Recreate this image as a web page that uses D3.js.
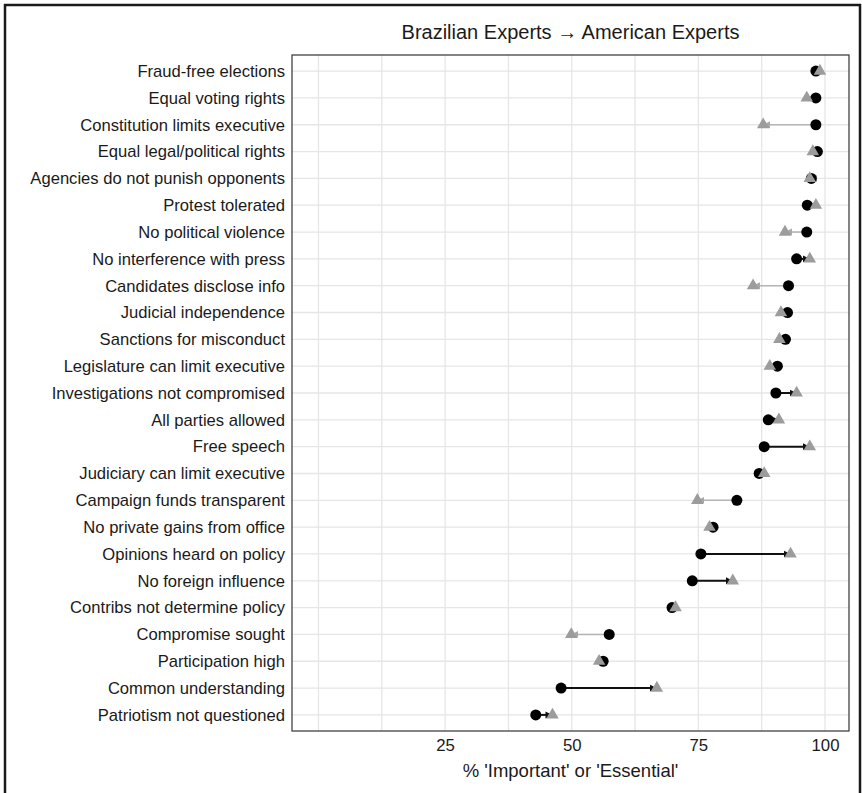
<!DOCTYPE html>
<html>
<head>
<meta charset="utf-8">
<script src="https://cdn.jsdelivr.net/npm/d3@7"></script>
<style>
  html, body { margin: 0; padding: 0; background: #fff; }
  svg { display: block; font-family: "Liberation Sans", Arial, sans-serif; }
</style>
</head>
<body>
<svg id="chart" width="862" height="793"></svg>
<script>
// Items, top to bottom
const categories = [
  "Fraud-free elections", "Equal voting rights", "Constitution limits executive",
  "Equal legal/political rights", "Agencies do not punish opponents", "Protest tolerated",
  "No political violence", "No interference with press", "Candidates disclose info",
  "Judicial independence", "Sanctions for misconduct", "Legislature can limit executive",
  "Investigations not compromised", "All parties allowed", "Free speech",
  "Judiciary can limit executive", "Campaign funds transparent", "No private gains from office",
  "Opinions heard on policy", "No foreign influence", "Contribs not determine policy",
  "Compromise sought", "Participation high", "Common understanding", "Patriotism not questioned"
];

// % rating the item 'Important' or 'Essential'
const brazilian = [98.2, 98.2, 98.2, 98.5, 97.3, 96.5, 96.4, 94.4, 92.8, 92.6, 92.2, 90.6, 90.3,
                   88.8, 88.0, 87.0, 82.6, 77.9, 75.5, 73.8, 69.8, 57.4, 56.2, 47.9, 42.9];
const american  = [99.0, 96.4, 87.8, 97.6, 97.0, 98.2, 92.1, 97.0, 85.8, 91.3, 91.0, 89.1, 94.4,
                   90.9, 97.0, 88.0, 74.8, 77.2, 93.2, 81.8, 70.5, 49.9, 55.4, 66.8, 46.2];

const tickValues = [25, 50, 75, 100];
const gridValues = [0, 12.5, 25, 37.5, 50, 62.5, 75, 87.5, 100];

const titleText = "Brazilian Experts \u2192 American Experts";
const xTitle = "% 'Important' or 'Essential'";

const rows = categories.map((c, i) => ({ cat: c, from: brazilian[i], to: american[i] }));

const svg = d3.select("#chart");
const panel = { left: 292, right: 849, top: 55, bottom: 731 };

const x = d3.scaleLinear().domain([-5.23, 104.74]).range([panel.left, panel.right]);
const y = d3.scalePoint().domain(categories).range([panel.top, panel.bottom]).padding(0.6);

// outer frame
svg.append("line").attr("x1", 5).attr("x2", 5).attr("y1", 4).attr("y2", 793)
  .attr("stroke", "#1a1a1a").attr("stroke-width", 2.5);
svg.append("line").attr("x1", 4).attr("x2", 861).attr("y1", 5).attr("y2", 5)
  .attr("stroke", "#1a1a1a").attr("stroke-width", 2.5);
svg.append("line").attr("x1", 860).attr("x2", 860).attr("y1", 4).attr("y2", 793)
  .attr("stroke", "#1a1a1a").attr("stroke-width", 2.5);

// arrowheads
const defs = svg.append("defs");
[["arrBlack", "#111"], ["arrGray", "#a8a8a8"]].forEach(([id, col]) => {
  defs.append("marker").attr("id", id)
    .attr("viewBox", "0 0 10 10").attr("refX", 10).attr("refY", 5)
    .attr("markerWidth", 7).attr("markerHeight", 8).attr("markerUnits", "userSpaceOnUse")
    .attr("orient", "auto")
    .append("path").attr("d", "M0,0 L10,5 L0,10 Z").attr("fill", col);
});

// grid
const g = svg.append("g");
g.selectAll(".vgrid").data(gridValues).join("line")
  .attr("x1", d => x(d)).attr("x2", d => x(d))
  .attr("y1", panel.top).attr("y2", panel.bottom)
  .attr("stroke", "#e6e6e6").attr("stroke-width", 1.3);
g.selectAll(".hgrid").data(categories).join("line")
  .attr("x1", panel.left).attr("x2", panel.right)
  .attr("y1", d => y(d)).attr("y2", d => y(d))
  .attr("stroke", "#e6e6e6").attr("stroke-width", 1.3);

// segments with arrows
svg.append("g").selectAll("line").data(rows).join("line")
  .attr("x1", d => x(d.from)).attr("x2", d => x(d.to))
  .attr("y1", d => y(d.cat)).attr("y2", d => y(d.cat))
  .attr("stroke", d => d.to >= d.from ? "#111" : "#b5b5b5")
  .attr("stroke-width", d => d.to >= d.from ? 2 : 1.6)
  .attr("marker-end", d => d.to >= d.from ? "url(#arrBlack)" : "url(#arrGray)");

// Brazilian experts
svg.append("g").selectAll("circle").data(rows).join("circle")
  .attr("cx", d => x(d.from)).attr("cy", d => y(d.cat)).attr("r", 5.5)
  .attr("fill", "#000");

// American experts
const tri = d3.symbol().type(d3.symbolTriangle).size(68);
svg.append("g").selectAll("path").data(rows).join("path")
  .attr("d", tri)
  .attr("transform", d => `translate(${x(d.to)},${y(d.cat)})`)
  .attr("fill", "#9c9c9c");

// panel border
svg.append("rect")
  .attr("x", panel.left).attr("y", panel.top)
  .attr("width", panel.right - panel.left).attr("height", panel.bottom - panel.top)
  .attr("fill", "none").attr("stroke", "#333").attr("stroke-width", 1.2);

// y axis labels
const yAxis = d3.axisLeft(y).tickSize(0).tickPadding(7);
svg.append("g").attr("transform", `translate(${panel.left},0)`).call(yAxis)
  .call(s => s.select(".domain").remove())
  .selectAll("text").attr("font-size", 16.6).attr("fill", "#1a1a1a")
  .attr("font-family", "'Liberation Sans', Arial, sans-serif");

// x axis labels
const xAxis = d3.axisBottom(x).tickValues(tickValues).tickSize(0).tickPadding(8);
svg.append("g").attr("transform", `translate(0,${panel.bottom})`).call(xAxis)
  .call(s => s.select(".domain").remove())
  .selectAll("text").attr("font-size", 16.8).attr("fill", "#1a1a1a")
  .attr("font-family", "'Liberation Sans', Arial, sans-serif");

// titles
svg.append("text").attr("x", (panel.left + panel.right) / 2).attr("y", 39)
  .attr("text-anchor", "middle").attr("font-size", 20).attr("fill", "#1a1a1a")
  .text(titleText);
svg.append("text").attr("x", (panel.left + panel.right) / 2).attr("y", 777)
  .attr("text-anchor", "middle").attr("font-size", 18.5).attr("fill", "#1a1a1a")
  .text(xTitle);
</script>
</body>
</html>
